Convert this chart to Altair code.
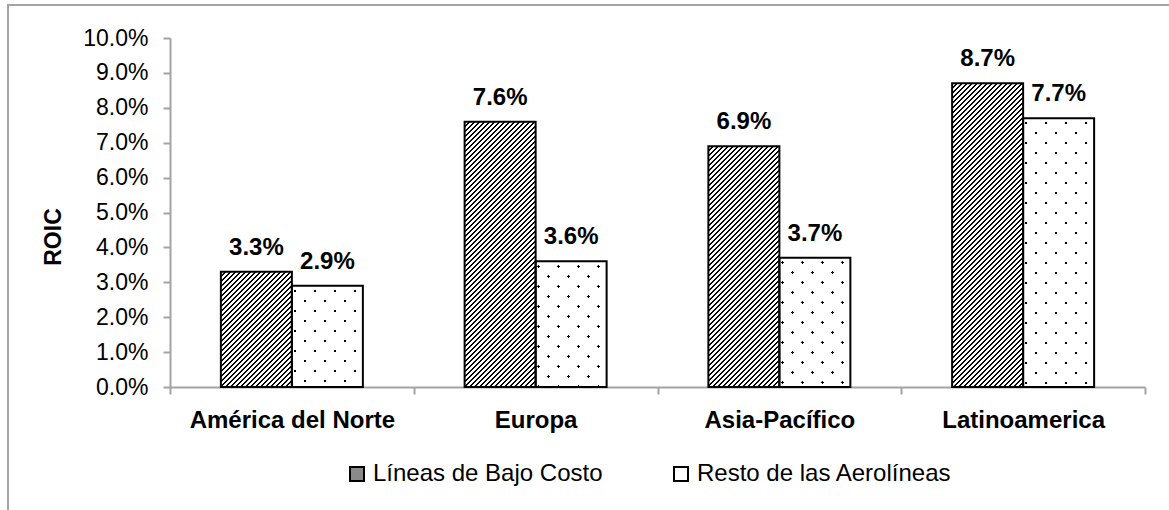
import altair as alt
import pandas as pd

# ROIC by region: low-cost carriers vs. the rest of the airlines
regions = ["América del Norte", "Europa", "Asia-Pacífico", "Latinoamerica"]
series_names = ["Líneas de Bajo Costo", "Resto de las Aerolíneas"]
low_cost_roic = [0.033, 0.076, 0.069, 0.087]
other_roic = [0.029, 0.036, 0.037, 0.077]
y_tick_values = [0.0, 0.01, 0.02, 0.03, 0.04, 0.05, 0.06, 0.07, 0.08, 0.09, 0.10]

rows = []
for region, lc, ot in zip(regions, low_cost_roic, other_roic):
    rows.append({"region": region, "series": series_names[0], "roic": lc})
    rows.append({"region": region, "series": series_names[1], "roic": ot})
df = pd.DataFrame(rows)

# layout (pixels)
PLOT_W, PLOT_H = 975, 349
PAD = {"left": 170, "top": 38, "right": 24, "bottom": 123}
Y_MAX = 0.10
BAR_W = 71.0
STEP = PLOT_W / len(regions)
OFFSET_OUTER = (STEP / BAR_W - 2) / 2

FONT = "Liberation Sans"
AXIS_GRAY = "#a3a3a3"
TRANSPARENT = "rgba(255,255,255,0)"


def diagonal_stripes(bar_h, period, width, phase, ink, paper, rising=True):
    """45-degree stripe fill for a bar of BAR_W x bar_h pixels, built as a
    hard-stop linear gradient in the bar's bounding-box units."""
    w = BAR_W
    k = bar_h / w
    span = w + bar_h * bar_h / w
    s_max = w + bar_h
    stops = [{"offset": 0, "color": paper}]
    c = phase - period
    while c - width / 2 < s_max:
        a = max(0.0, c - width / 2)
        b = min(s_max, c + width / 2)
        if b > a:
            stops += [
                {"offset": round(a / span, 6), "color": paper},
                {"offset": round(a / span, 6), "color": ink},
                {"offset": round(b / span, 6), "color": ink},
                {"offset": round(b / span, 6), "color": paper},
            ]
        c += period
    if rising:
        coords = {"x1": 0, "y1": 0, "x2": 1, "y2": k}
    else:
        coords = {"x1": 0, "y1": 1, "x2": 1, "y2": 1 - k}
    return {"gradient": "linear", "stops": stops, **coords}


def bar_px(v):
    return v / Y_MAX * PLOT_H


base = alt.Chart(df).encode(
    x=alt.X(
        "region:N",
        sort=regions,
        scale=alt.Scale(domain=regions, paddingInner=0, paddingOuter=0),
        axis=alt.Axis(
            title=None,
            labelAngle=0,
            labelFontSize=24,
            labelFontWeight="bold",
            labelColor="black",
            labelPadding=14,
            labelLimit=400,
            tickBand="extent",
            tickSize=7,
            tickWidth=2,
            tickColor=AXIS_GRAY,
            domainColor=AXIS_GRAY,
            domainWidth=2,
            grid=False,
        ),
    ),
    xOffset=alt.XOffset(
        "series:N",
        sort=series_names,
        scale=alt.Scale(domain=series_names, paddingInner=0, paddingOuter=OFFSET_OUTER),
    ),
    y=alt.Y(
        "roic:Q",
        scale=alt.Scale(domain=[0, Y_MAX], nice=False, zero=True),
        axis=alt.Axis(
            title="ROIC",
            titleFontSize=23,
            titleFontWeight="bold",
            titleColor="black",
            titleBaseline="alphabetic",
            titleAlign="center",
            titleX=-110,
            titleY=198.5,
            values=y_tick_values,
            format=".1%",
            labelFontSize=23,
            labelColor="black",
            labelPadding=15,
            tickSize=7,
            tickWidth=2,
            tickColor=AXIS_GRAY,
            domainColor=AXIS_GRAY,
            domainWidth=2,
            grid=False,
        ),
    ),
)

# plain bars carrying the legend
bars = base.mark_bar(strokeWidth=0).encode(
    fill=alt.Fill(
        "series:N",
        sort=series_names,
        scale=alt.Scale(domain=series_names, range=["#8a8a8a", "#ffffff"]),
        legend=alt.Legend(
            title=None,
            orient="none",
            legendX=175,
            legendY=424,
            direction="horizontal",
            symbolType="square",
            symbolSize=196,
            symbolStrokeColor="black",
            symbolStrokeWidth=2,
            symbolOpacity=1,
            labelFontSize=24,
            labelColor="black",
            labelOffset=4,
            labelLimit=500,
            columnPadding=66,
            padding=0,
        ),
    )
)

layers = [bars]

# diagonal hatching on the low-cost bars
for region, v in zip(regions, low_cost_roic):
    grad = diagonal_stripes(bar_px(v), period=5, width=2.3, phase=0, ink="black", paper="white")
    layers.append(
        base.mark_bar(fill=grad, strokeWidth=0).transform_filter(
            (alt.datum.region == region) & (alt.datum.series == series_names[0])
        )
    )

# dotted fill on the other bars: black under two white layers with holes
layers.append(
    base.mark_bar(fill="black", strokeWidth=0).transform_filter(alt.datum.series == series_names[1])
)
for region, v in zip(regions, other_roic):
    h = bar_px(v)
    up = diagonal_stripes(h, period=20, width=3, phase=8, ink=TRANSPARENT, paper="white")
    down = diagonal_stripes(h, period=20, width=3, phase=(h - 2) % 20, ink=TRANSPARENT,
                            paper="white", rising=False)
    flt = (alt.datum.region == region) & (alt.datum.series == series_names[1])
    layers.append(base.mark_bar(fill=up, strokeWidth=0).transform_filter(flt))
    layers.append(base.mark_bar(fill=down, strokeWidth=0).transform_filter(flt))

# bar outlines
layers.append(base.mark_bar(fillOpacity=0, stroke="black", strokeWidth=2))

# value labels
layers.append(
    base.mark_text(
        fontSize=24, fontWeight="bold", baseline="alphabetic", dy=-17, color="black"
    ).encode(text=alt.Text("roic:Q", format=".1%"))
)

# chart-area border (left and top edges)
frame_df = pd.DataFrame({"edge": ["border"]})
layers.append(
    alt.Chart(frame_df).mark_rule(color=AXIS_GRAY, strokeWidth=2).encode(
        x=alt.value(-162), y=alt.value(-33), y2=alt.value(PLOT_H + PAD["bottom"] + 5)
    )
)
layers.append(
    alt.Chart(frame_df).mark_rule(color=AXIS_GRAY, strokeWidth=2).encode(
        y=alt.value(-33), x=alt.value(-163), x2=alt.value(PLOT_W + PAD["right"] + 5)
    )
)

chart = (
    alt.layer(*layers)
    .properties(
        width=PLOT_W,
        height=PLOT_H,
        padding=PAD,
        autosize=alt.AutoSizeParams(type="none"),
        background="white",
    )
    .configure(font=FONT)
    .configure_view(strokeWidth=0)
)

chart.save("out.html", embed_options={"renderer": "svg", "actions": False})
